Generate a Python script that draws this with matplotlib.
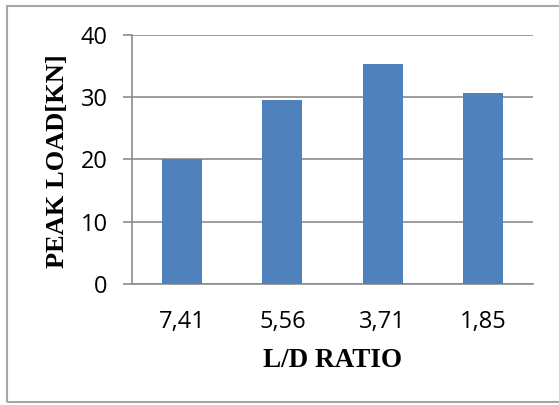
import matplotlib.pyplot as plt
from matplotlib.patches import Rectangle

# data
ratios = ["7,41", "5,56", "3,71", "1,85"]
peak_load = [20.0, 29.6, 35.3, 30.7]
y_ticks = [0, 10, 20, 30, 40]

grid_col = '#8c8c8c'
bar_col = '#4f81bd'

fig = plt.figure(figsize=(5.59, 4.05), dpi=100)
ax = fig.add_axes([0.236, 0.2988, 0.7175, 0.6148])

x = range(len(ratios))
ax.bar(x, peak_load, width=0.4, color=bar_col, zorder=3)

ax.set_xlim(-0.5, len(ratios) - 0.5)
ax.set_ylim(0, 40)
ax.set_yticks(y_ticks)
ax.set_xticks(list(x))
ax.set_xticklabels(ratios)

ax.yaxis.grid(True, color=grid_col, lw=1.2, zorder=0)
for s in ['top', 'right']:
    ax.spines[s].set_visible(False)
for s in ['left', 'bottom']:
    ax.spines[s].set_color(grid_col)
    ax.spines[s].set_linewidth(1.2)

ax.tick_params(axis='y', length=6.5, width=1.2, color=grid_col, pad=11)
ax.tick_params(axis='x', length=0, pad=18.5)
for lab in ax.get_xticklabels() + ax.get_yticklabels():
    lab.set_fontfamily('Open Sans')
    lab.set_fontsize(17)

ax.set_ylabel("PEAK LOAD[KN]", family='Liberation Serif', weight='bold', fontsize=19)
ax.set_xlabel("L/D RATIO", family='Liberation Serif', weight='bold', fontsize=19.5)
ax.yaxis.set_label_coords(-0.157, 0.494)
ax.xaxis.set_label_coords(0.5, -0.257)

# chart frame
fig.patches.append(Rectangle((7 / 559, 3 / 405), 1.2, 396 / 405, transform=fig.transFigure,
                             fill=False, edgecolor='#a6a6a6', lw=1.5))

plt.savefig('out.png', dpi=100)
